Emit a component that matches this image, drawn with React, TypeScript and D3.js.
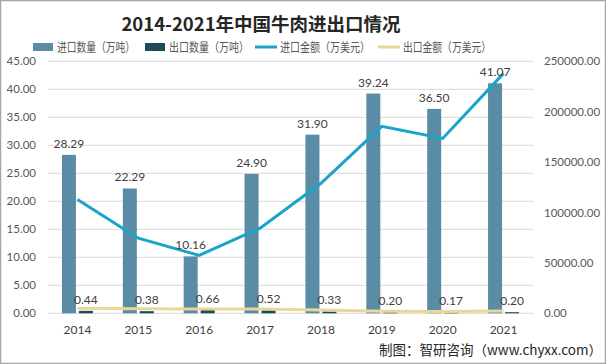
import * as React from 'react';
import * as d3 from 'd3';

const years = ['2014', '2015', '2016', '2017', '2018', '2019', '2020', '2021'];
const importQty = [28.29, 22.29, 10.16, 24.9, 31.9, 39.24, 36.5, 41.07];
const exportQty = [0.44, 0.38, 0.66, 0.52, 0.33, 0.2, 0.17, 0.2];
const importAmt = [113000, 74500, 57500, 84500, 129000, 185500, 173500, 238000];
const exportAmt = [5000, 4600, 4200, 4300, 3200, 2100, 1800, 2400];
const leftTicks = [0, 5, 10, 15, 20, 25, 30, 35, 40, 45];
const rightTicks = [0, 50000, 100000, 150000, 200000, 250000];

const legendItems = [
    { name: '进口数量（万吨）', kind: 'rect', color: '#5a8ca6', x: 33, w: 78 },
    { name: '出口数量（万吨）', kind: 'rect', color: '#1b4c58', x: 145, w: 80 },
    { name: '进口金额（万美元）', kind: 'line', color: '#1ba3c9', x: 255, w: 90 },
    { name: '出口金额（万美元）', kind: 'line', color: '#e9d79a', x: 378, w: 88 },
];

const W = 606, H = 364;
const font = 'Lato, "Noto Sans CJK SC", sans-serif';
const cjk = '"Noto Sans CJK SC", sans-serif';

export default function App() {
    const x = d3.scaleBand<string>().domain(years).range([47, 534]);
    const yL = d3.scaleLinear().domain([0, 45]).range([313.3, 61.3]);
    const yR = d3.scaleLinear().domain([0, 250000]).range([313.3, 61.3]);
    const cx = (y: string) => (x(y) || 0) + x.bandwidth() / 2;
    const bw = 14;

    const lineAmt = d3.line<number>()
        .x((_, i) => cx(years[i]))
        .y(v => yR(v));

    return (
        <div style={{ position: 'fixed', left: 0, top: 0 }}>
            <svg width={W} height={H} style={{ display: 'block', background: '#fff' }}>
                <rect x={0.5} y={0.5} width={W - 1} height={H - 1} fill="none" stroke="#a6a6a6" strokeWidth={1.5} />
                <text x={261} y={31} textAnchor="middle" fontFamily={cjk} fontWeight="bold" fontSize={18.5} fill="#262626">
                    2014-2021年中国牛肉进出口情况
                </text>

                {legendItems.map(l => (
                    <g key={l.name}>
                        {l.kind === 'rect'
                            ? <rect x={l.x} y={43} width={20} height={8} fill={l.color} />
                            : <line x1={l.x} x2={l.x + 22} y1={47} y2={47} stroke={l.color} strokeWidth={3} />}
                        <text x={l.x + (l.kind === 'rect' ? 24 : 25)} y={52} fontFamily={cjk} fontSize={12.5}
                            textLength={l.w} lengthAdjust="spacingAndGlyphs" fill="#595959">{l.name}</text>
                    </g>
                ))}

                {leftTicks.map(t => (
                    <g key={t}>
                        <line x1={48} x2={534} y1={yL(t)} y2={yL(t)} stroke="#d9d9d9" strokeWidth={1} />
                        <text x={36} y={yL(t) + 4} textAnchor="end" fontFamily={font} fontSize={11.5} fill="#595959">{t.toFixed(2)}</text>
                    </g>
                ))}
                {rightTicks.map(t => (
                    <text key={t} x={544} y={yR(t) + 4} fontFamily={font} fontSize={11.5} fill="#595959">{t.toFixed(2)}</text>
                ))}

                {years.map((y, i) => (
                    <g key={y}>
                        <rect x={cx(y) - bw - 1.5} y={yL(importQty[i])} width={bw} height={yL(0) - yL(importQty[i])} fill="#5a8ca6" />
                        <rect x={cx(y) + 1.5} y={yL(exportQty[i])} width={bw} height={yL(0) - yL(exportQty[i])} fill="#1b4c58" />
                        <text x={cx(y)} y={334} textAnchor="middle" fontFamily={font} fontSize={12} fill="#404040">{y}</text>
                    </g>
                ))}

                <path d={lineAmt(importAmt) || undefined} fill="none" stroke="#1ba3c9" strokeWidth={3} />
                <path d={lineAmt(exportAmt) || undefined} fill="none" stroke="#e9d79a" strokeWidth={3} />

                {years.map((y, i) => (
                    <g key={'lb' + y}>
                        <text x={cx(y) - bw / 2 - 1.5} y={yL(importQty[i]) - 7} textAnchor="middle" fontFamily={font} fontSize={12} fill="#404040">
                            {importQty[i].toFixed(2)}
                        </text>
                        <text x={cx(y) + bw / 2 + 1.5} y={yL(exportQty[i]) - 7} textAnchor="middle" fontFamily={font} fontSize={12} fill="#404040">
                            {exportQty[i].toFixed(2)}
                        </text>
                    </g>
                ))}

                <text x={379} y={355} fontFamily={cjk} fontSize={13.5} fill="#262626">制图：智研咨询（www.chyxx.com）</text>
            </svg>
        </div>
    );
}
